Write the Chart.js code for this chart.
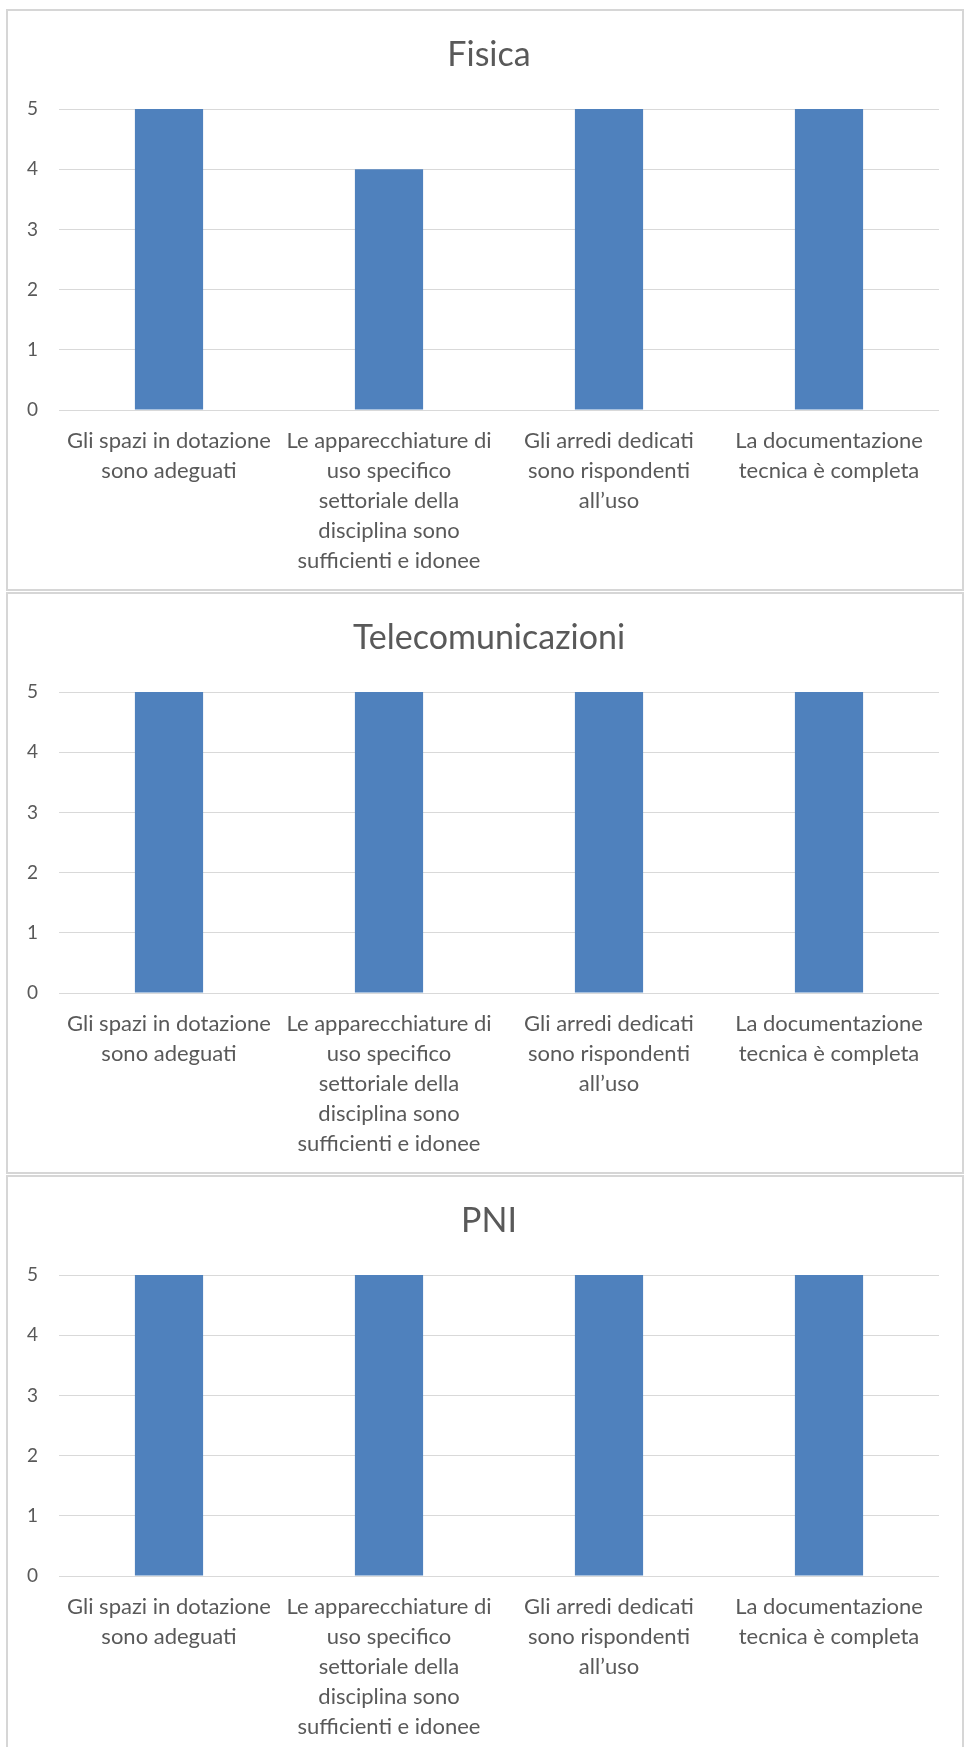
<!DOCTYPE html>
<html>
<head>
<meta charset="utf-8">
<script src="https://cdn.jsdelivr.net/npm/chart.js@4"></script>
<style>
    html, body {
        margin: 0;
        padding: 0;
        background: #ffffff;
        width: 965px;
        height: 1747px;
        overflow: hidden;
    }
    .chart-box {
        position: absolute;
        left: 6px;
        width: 954px;
        height: 578px;
        border: 2px solid #d6d6d6;
        background: #ffffff;
    }
</style>
</head>
<body>
<div class="chart-box" style="top: 9px;"><canvas id="chartFisica" width="954" height="578"></canvas></div>
<div class="chart-box" style="top: 592px;"><canvas id="chartTelecom" width="954" height="578"></canvas></div>
<div class="chart-box" style="top: 1175px;"><canvas id="chartPni" width="954" height="578"></canvas></div>

<script>
// Categories (already split into lines as in the original)
const categories = [
    ["Gli spazi in dotazione", "sono adeguati"],
    ["Le apparecchiature di", "uso specifico", "settoriale della", "disciplina sono", "sufficienti e idonee"],
    ["Gli arredi dedicati", "sono rispondenti", "all\u2019uso"],
    ["La documentazione", "tecnica \u00e8 completa"]
];

const chartTitles = ["Fisica", "Telecomunicazioni", "PNI"];

const fisicaValues = [5, 4, 5, 5];
const telecomValues = [5, 5, 5, 5];
const pniValues = [5, 5, 5, 5];

const yMin = 0;
const yMax = 5;
const yStep = 1;

const barColor = "#4f81bd";
const textColor = "#595959";
const gridColor = "#d9d9d9";
const fontFamily = "Lato, 'Noto Sans', sans-serif";

function drawChart(canvasId, title, values) {
    const ctx = document.getElementById(canvasId).getContext("2d");

    return new Chart(ctx, {
        type: "bar",
        data: {
            labels: categories,
            datasets: [{
                label: title,
                data: values,
                backgroundColor: barColor,
                borderWidth: 0,
                categoryPercentage: 1,
                barPercentage: 0.31
            }]
        },
        options: {
            responsive: false,
            animation: false,
            layout: {
                padding: { left: 18, right: 10, top: 0, bottom: 0 }
            },
            plugins: {
                legend: { display: false },
                tooltip: { enabled: false },
                title: {
                    display: true,
                    text: title,
                    color: textColor,
                    font: { family: fontFamily, size: 34, weight: "normal", lineHeight: 1.2 },
                    padding: { top: 23.6, bottom: 33.6 }
                }
            },
            scales: {
                x: {
                    grid: { display: false, drawTicks: false },
                    border: { display: false },
                    ticks: {
                        color: textColor,
                        font: { family: fontFamily, size: 22, lineHeight: "30px" },
                        padding: 16,
                        autoSkip: false,
                        maxRotation: 0,
                        minRotation: 0
                    },
                    afterFit: (scale) => { scale.height = 179; }
                },
                y: {
                    min: yMin,
                    max: yMax,
                    grid: { color: gridColor, lineWidth: 1, drawTicks: false },
                    border: { display: false },
                    ticks: {
                        stepSize: yStep,
                        color: textColor,
                        font: { family: fontFamily, size: 19 },
                        padding: 21
                    },
                    afterFit: (scale) => { scale.width = 33; }
                },
                // empty right-hand axis, only keeps the plot area off the right edge
                spacer: {
                    type: "linear",
                    position: "right",
                    grid: { display: false, drawTicks: false },
                    border: { display: false },
                    ticks: { display: false },
                    afterFit: (scale) => { scale.width = 13; }
                }
            }
        }
    });
}

drawChart("chartFisica", chartTitles[0], fisicaValues);
drawChart("chartTelecom", chartTitles[1], telecomValues);
drawChart("chartPni", chartTitles[2], pniValues);
</script>
</body>
</html>
